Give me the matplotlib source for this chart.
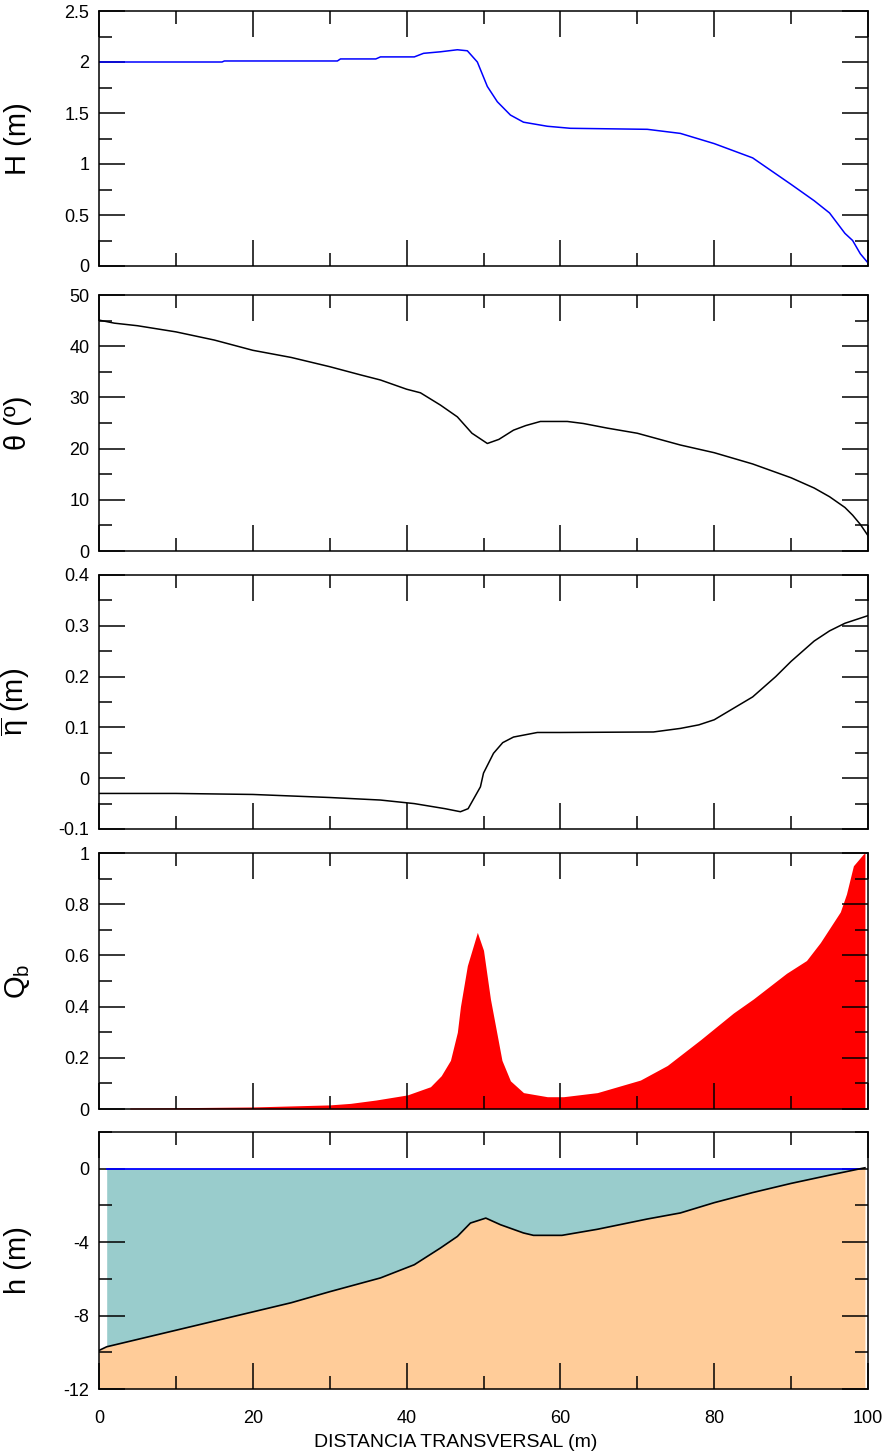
import numpy as np
import matplotlib
matplotlib.use("Agg")
import matplotlib.pyplot as plt
from matplotlib.ticker import MultipleLocator, FuncFormatter

plt.rcParams['font.family'] = ['Liberation Sans', 'DejaVu Sans']
plt.rcParams['axes.unicode_minus'] = False
plt.rcParams['mathtext.fontset'] = 'custom'
plt.rcParams['mathtext.rm'] = 'Liberation Sans'
plt.rcParams['mathtext.it'] = 'Liberation Sans'

# wave height
x_H = [0, 16, 16.3, 31, 31.4, 36, 36.6, 41, 42.2, 44.4, 46.6, 47.9, 49.2, 50.5, 51.8,
       53.5, 55.2, 58.3, 61.3, 71.3, 75.6, 80, 85, 90, 93, 95, 96, 97, 98, 99, 100]
H = [2.0, 2.0, 2.01, 2.01, 2.03, 2.03, 2.05, 2.05, 2.085, 2.10, 2.12, 2.11, 2.0, 1.76, 1.61,
     1.48, 1.41, 1.37, 1.35, 1.34, 1.30, 1.20, 1.06, 0.80, 0.64, 0.52, 0.42, 0.32, 0.25, 0.12, 0.03]

# wave angle
x_th = [0, 2, 5, 10, 15, 20, 25, 30, 34, 36.6, 40, 41.8, 44.4, 46.6, 48.5, 50.5, 52, 53.9,
        55.5, 57.4, 60.9, 63, 66.1, 70, 75.6, 80, 85, 90, 93, 95, 97, 98, 99, 100]
theta = [45.1, 44.5, 44.0, 42.8, 41.2, 39.2, 37.8, 36.0, 34.4, 33.4, 31.6, 30.9, 28.5, 26.2,
         23.0, 21.0, 21.8, 23.6, 24.5, 25.3, 25.3, 24.9, 24.0, 23.0, 20.7, 19.2, 17.0, 14.3,
         12.3, 10.6, 8.5, 7.0, 5.2, 3.0]

# mean water level
x_eta = [0, 10, 20, 25, 30, 36.6, 41, 45, 47, 48, 49.6, 50, 51.3, 52.5, 53.9, 57, 60, 72.1,
         75.6, 78, 80, 85, 88, 90, 93, 95, 97, 98, 100]
eta = [-0.030, -0.030, -0.032, -0.035, -0.038, -0.043, -0.050, -0.060, -0.066, -0.060, -0.017,
       0.010, 0.049, 0.070, 0.081, 0.090, 0.090, 0.091, 0.098, 0.105, 0.115, 0.16, 0.20, 0.23,
       0.27, 0.29, 0.305, 0.31, 0.32]

# fraction of breaking waves
x_Q = [4, 10, 20, 25, 30, 32.7, 36, 40.1, 43.1, 44.5, 45.7, 46.6, 47.0, 47.9, 49.2, 50.0,
       50.9, 52.4, 53.5, 55.2, 58.3, 60.4, 64.8, 70.4, 73.9, 78.2, 82.5, 85.1, 89.4, 92.0,
       93.8, 96.4, 97.2, 98.1, 99.4, 99.6]
Qb = [0.004, 0.005, 0.008, 0.012, 0.016, 0.022, 0.035, 0.055, 0.087, 0.13, 0.19, 0.30, 0.40,
      0.56, 0.69, 0.62, 0.43, 0.19, 0.11, 0.064, 0.048, 0.048, 0.064, 0.113, 0.17, 0.27,
      0.375, 0.43, 0.53, 0.58, 0.65, 0.77, 0.84, 0.95, 0.996, 1.0]

# bottom profile
x_h = [0, 1, 5, 10, 15, 20, 25, 30, 36.6, 41, 44.4, 46.6, 48.3, 50.3, 52.2, 55.2, 56.5,
       60.2, 64.8, 71.3, 75.6, 80, 85, 90, 95, 99.0, 99.6]
h = [-9.9, -9.7, -9.3, -8.8, -8.3, -7.8, -7.3, -6.7, -5.95, -5.23, -4.32, -3.69, -2.96,
     -2.69, -3.05, -3.5, -3.63, -3.63, -3.3, -2.74, -2.41, -1.85, -1.3, -0.8, -0.35, 0.0, 0.05]

W, Hpx = 890, 1453
fig = plt.figure(figsize=(W / 100, Hpx / 100), dpi=100)
left, right = 99, 868
panels = [(11, 266), (295, 551), (575, 829), (853, 1109), (1132, 1389)]
axes = []
for top, bot in panels:
    ax = fig.add_axes([left / W, 1 - bot / Hpx, (right - left) / W, (bot - top) / Hpx])
    axes.append(ax)

fmt = FuncFormatter(lambda v, p: '%g' % round(v, 6))
ylims = [(0, 2.5, 0.5, 0.25), (0, 50, 10, 5), (-0.1, 0.4, 0.1, 0.05),
         (0, 1, 0.2, 0.1), (-12, 2, 4, 2)]
ylabels = ['H (m)', 'θ (º)', r'$\overline{\eta}$ (m)', r'Q$_\mathrm{b}$', 'h (m)']

for ax, (y0, y1, maj, mn), lab in zip(axes, ylims, ylabels):
    ax.set_xlim(0, 100)
    ax.set_ylim(y0, y1)
    ax.xaxis.set_major_locator(MultipleLocator(20))
    ax.xaxis.set_minor_locator(MultipleLocator(10))
    ax.yaxis.set_major_locator(MultipleLocator(maj))
    ax.yaxis.set_minor_locator(MultipleLocator(mn))
    ax.yaxis.set_major_formatter(fmt)
    ax.tick_params(which='both', direction='in', top=True, right=True, width=1.1)
    ax.tick_params(which='major', length=19)
    ax.tick_params(which='minor', length=9.5)
    ax.tick_params(axis='y', labelsize=13, pad=7)
    ax.tick_params(axis='x', labelsize=13, pad=15)
    ax.set_ylabel(lab, fontsize=21)
    ax.yaxis.set_label_coords(-0.087, 0.5)
    for s in ax.spines.values():
        s.set_linewidth(1.1)
    if ax is not axes[-1]:
        ax.tick_params(axis='x', labelbottom=False)

axes[0].plot(x_H, H, color='#0000ff', lw=1.1)
axes[1].plot(x_th, theta, color='black', lw=1.1)
axes[2].plot(x_eta, eta, color='black', lw=1.1)
axes[3].fill_between(x_Q, 0, Qb, color='#ff0000', lw=0)

ax = axes[4]
xb = np.array(x_h)
hb = np.array(h)
ax.fill_between(xb, -12, hb, color='#ffcc99', lw=0)
wet = (xb >= 1) & (xb <= 99)
ax.fill_between(xb[wet], hb[wet], 0, color='#99cccc', lw=0)
ax.plot([1, 99], [0, 0], color='#0000ff', lw=1.3)
ax.plot(x_h, h, color='black', lw=1.2)
ax.set_xlabel('DISTANCIA TRANSVERSAL (m)', fontsize=14, labelpad=4)
ax.xaxis.set_label_coords(0.464, -0.175)

fig.savefig('out.png', dpi=100)
